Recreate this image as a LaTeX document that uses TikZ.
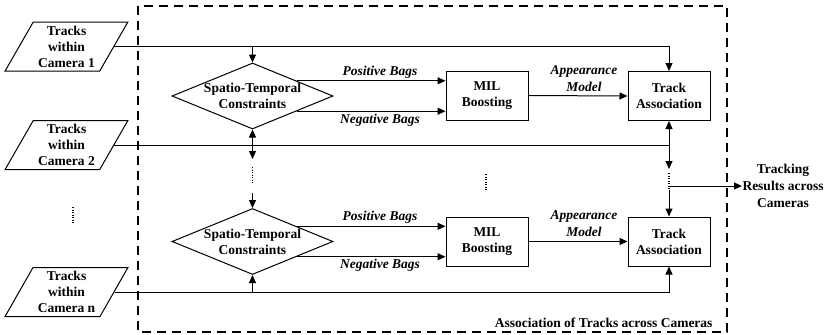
\documentclass[tikz,border=0pt]{standalone}
\usepackage{fontspec}
\setmainfont{Liberation Serif}
\usetikzlibrary{shapes.geometric,arrows.meta,calc}
\begin{document}
\begin{tikzpicture}[x=1pt,y=-1pt,
 font=\fontsize{13.5}{16}\selectfont\bfseries,
 line width=1pt,
 arr/.style={-{Triangle[length=8pt,width=7pt]}},
 para/.style={draw, trapezium, trapezium left angle=60, trapezium right angle=120,
   trapezium stretches=true, minimum width=123pt, minimum height=49pt, inner sep=0pt, align=center},
 dia/.style={draw, diamond, minimum width=161pt, minimum height=66pt, inner sep=0pt},
 box/.style={draw, rectangle, minimum width=82pt, minimum height=49pt, inner sep=0pt, align=center},
 lbl/.style={font=\fontsize{13.5}{17}\selectfont\bfseries\itshape, inner sep=0pt, align=center},
 dots/.style={line width=1.8pt, dash pattern=on 1.2pt off 1.3pt},
 outer/.style={draw, dash pattern=on 9pt off 6pt, line width=1.2pt}
]
\useasboundingbox (0,0) rectangle (831,335);
% dashed frame
\coordinate (fa) at (138,6);
\coordinate (fb) at (727,332);
\draw[outer] (fa) rectangle (fb);
\node[anchor=south east, inner sep=0pt] (frametitle) at (713,328) {Association of Tracks across Cameras};

% inputs
\node[para] (c1) at (66.5,46.5) {Tracks\\within\\Camera 1};
\node[para] (c2) at (66.5,145) {Tracks\\within\\Camera 2};
\node[para] (cn) at (66.5,292) {Tracks\\within\\Camera n};

% diamonds
\node[dia] (d1) at (252.5,96) {};
\node[align=center, inner sep=0pt] (d1t) at (d1.center) {Spatio-Temporal\\Constraints};
\node[dia] (d2) at (252.5,241.5) {};
\node[align=center, inner sep=0pt] (d2t) at (d2.center) {Spatio-Temporal\\Constraints};

% boxes
\node[box] (mil1) at (487,95.5) {MIL\\Boosting};
\node[box] (mil2) at (487,241.5) {MIL\\Boosting};
\node[box] (ta1) at (669,96) {Track\\Association};
\node[box] (ta2) at (669,241.5) {Track\\Association};

% output
\node[anchor=west, align=center, inner sep=0pt, font=\fontsize{13.5}{17}\selectfont\bfseries] (out) at (742,186) {Tracking\\Results across\\Cameras};

% camera 1
\draw[arr] (c1.east) -| (ta1.north);
\draw[arr] (d1.north |- c1.east) -- (d1.north);
% camera 2
\draw[arr] (c2.east) -| (ta1.south);
\draw[arr] (d1.south |- c2.east) -- (d1.south);
\coordinate (lA) at (252.5,159);
\coordinate (lB) at (252.5,167);
\coordinate (lC) at (252.5,183);
\coordinate (lD) at (252.5,193);
\draw[arr] (d1.south |- c2.east) -- (lA);
\draw[dots] (lB) -- (lC);
\draw[arr] (lD) -- (d2.north);
\coordinate (rA) at (669,169);
\coordinate (rB) at (669,173);
\coordinate (rC) at (669,190);
\draw[arr] (ta1.south |- c2.east) -- (rA);
\draw[dots] (rB) -- (rC);
\draw[arr] (rC) -- (ta2.north);
\coordinate (rO) at (669,186);
\draw[arr] (rO) -- (out.west);
% camera n
\draw[arr] (cn.east) -| (ta2.south);
\draw[arr] (d2.south |- cn.east) -- (d2.south);

% bags
\draw[arr] (d1.19) -- (d1.19 -| mil1.west) node[lbl, pos=0.56, above=2pt] {Positive Bags};
\draw[arr] (d1.-19) -- (d1.-19 -| mil1.west) node[lbl, pos=0.56, below=2pt] {Negative Bags};
\draw[arr] (d2.19) -- (d2.19 -| mil2.west) node[lbl, pos=0.56, above=2pt] {Positive Bags};
\draw[arr] (d2.-19) -- (d2.-19 -| mil2.west) node[lbl, pos=0.56, below=2pt] {Negative Bags};
% appearance model
\draw[arr] (mil1.east) -- (ta1.west) node[lbl, pos=0.56, above=4pt] {Appearance\\Model};
\draw[arr] (mil2.east |- ta2.west) -- (ta2.west) node[lbl, pos=0.56, above=4pt] {Appearance\\Model};

% ellipsis dots
\coordinate (mA) at (486,174);
\coordinate (mB) at (486,191);
\draw[dots] (mA) -- (mB);
\coordinate (pA) at (73,207);
\coordinate (pB) at (73,223);
\draw[dots] (pA) -- (pB);
\end{tikzpicture}
\end{document}
